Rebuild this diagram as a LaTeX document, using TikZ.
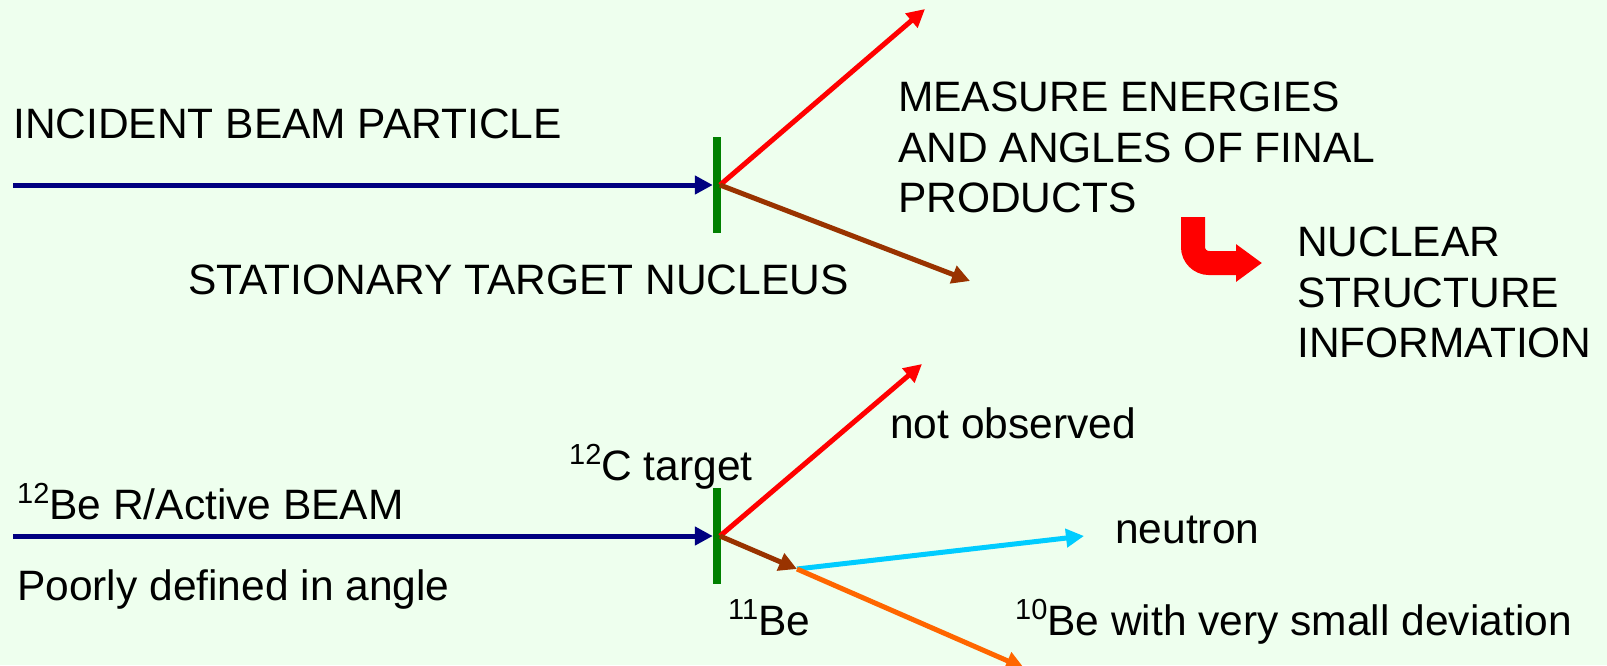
\documentclass[tikz,border=0pt]{standalone}
\usepackage{fontspec}
\setmainfont{Liberation Sans}
\usepackage{tikz}
\usepackage{xcolor}
\usetikzlibrary{arrows.meta}

\definecolor{slidebg}{RGB}{238,255,238}
\definecolor{beamblue}{RGB}{0,0,128}
\definecolor{targetgreen}{RGB}{0,128,0}
\definecolor{recoilbrown}{RGB}{153,51,0}
\definecolor{neutroncyan}{RGB}{0,204,255}
\definecolor{fragorange}{RGB}{255,102,0}
\newcommand{\iso}[2]{\raisebox{0.36em}{\fontsize{29}{29}\selectfont #1}#2}

\begin{document}
\begin{tikzpicture}[x=1pt, y=-1pt,
        lbl/.style={anchor=base west, inner sep=0pt, align=left, font=\fontsize{42.5}{50.5}\selectfont},
        ray/.style={line width=5pt, -{Triangle[length=18pt, width=18pt]}},
        foil/.style={fill=targetgreen, minimum width=8pt, minimum height=96pt, inner sep=0pt}]
        \fill[slidebg] (0,0) rectangle (1607,665);
        \useasboundingbox (0,0) rectangle (1607,665);

        % upper sketch: ordinary beam on a fixed target
        \coordinate (src1)  at (13,  185);
        \coordinate (hit1)  at (720, 185);
        \coordinate (fwd1)  at (925, 9);
        \coordinate (rec1)  at (970, 281);
        \node (foil1) at (717, 185) [foil] {};

        \node (incident)   at (13,  138) [lbl] {INCIDENT BEAM PARTICLE};
        \node (stationary) at (188, 294) [lbl] {STATIONARY TARGET NUCLEUS};
        \node (measure)    at (898, 82)  [lbl, anchor=north west] {MEASURE ENERGIES\\AND ANGLES OF FINAL\\PRODUCTS};
        \node (nuclear)    at (1297, 227) [lbl, anchor=north west] {NUCLEAR\\STRUCTURE\\INFORMATION};

        \draw[ray, beamblue] (src1) -- (foil1.west);
        \draw[ray, red] (hit1) -- (fwd1);
        \draw[ray, recoilbrown] (hit1) -- (rec1);

        % bent arrow towards the conclusion
        \coordinate (bendtop) at (1193, 217);
        \coordinate (bendend) at (1262, 263);
        \draw[red, line width=24pt, rounded corners=16pt, -{Triangle[length=26pt, width=36pt]}] (bendtop) |- (bendend);

        % lower sketch: radioactive 12Be beam
        \coordinate (src2)  at (13,  536);
        \coordinate (hit2)  at (720, 536);
        \coordinate (fwd2)  at (922, 364);
        \coordinate (brk2)  at (797, 569);
        \coordinate (neu2)  at (1084, 536);
        \coordinate (frag2) at (1024, 668);
        \node (foil2) at (717, 536) [foil] {};

        \node (notobs)  at (890,  438) [lbl] {not observed};
        \node (ctarget) at (569,  480) [lbl] {\iso{12}{C} target};
        \node (beam2)   at (17,   519) [lbl] {\iso{12}{Be} R/Active BEAM};
        \node (neutron) at (1115, 543) [lbl] {neutron};
        \node (poorly)  at (17,   600) [lbl] {Poorly defined in angle};
        \node (be11)    at (728,  635) [lbl] {\iso{11}{Be}};
        \node (be10)    at (1015, 635) [lbl] {\iso{10}{Be} with very small deviation};

        \draw[ray, beamblue] (src2) -- (foil2.west);
        \draw[ray, red] (hit2) -- (fwd2);
        \draw[ray, recoilbrown] (hit2) -- (brk2);
        \draw[ray, neutroncyan] (brk2) -- (neu2);
        \draw[ray, fragorange] (brk2) -- (frag2);
    \end{tikzpicture}
\end{document}
